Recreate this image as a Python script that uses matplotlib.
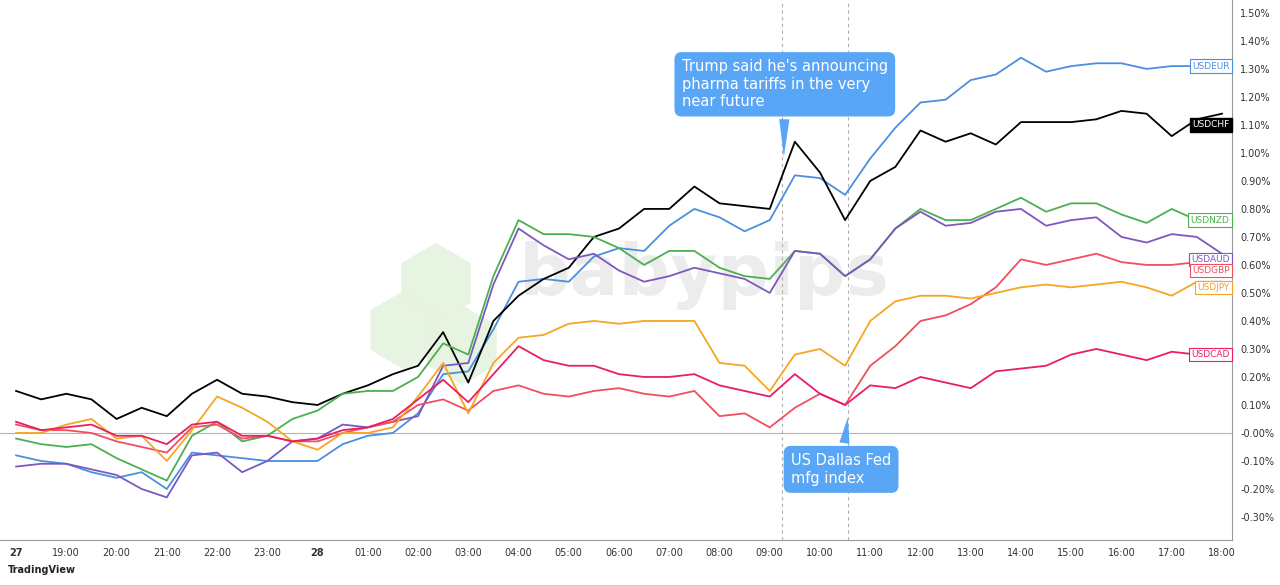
import numpy as np
import matplotlib
matplotlib.use("Agg")
import matplotlib.pyplot as plt
from matplotlib.patches import RegularPolygon
from matplotlib.transforms import blended_transform_factory

# half-hour steps, hours since 27th 18:00
hours = np.arange(49) * 0.5

usdeur = [-0.08, -0.10, -0.11, -0.14, -0.16, -0.14, -0.20, -0.07, -0.08, -0.09, -0.10, -0.10, -0.10,
          -0.04, -0.01, 0.00, 0.07, 0.21, 0.22, 0.37, 0.54, 0.55, 0.54, 0.63, 0.66, 0.65, 0.74, 0.80,
          0.77, 0.72, 0.76, 0.92, 0.91, 0.85, 0.98, 1.09, 1.18, 1.19, 1.26, 1.28, 1.34, 1.29, 1.31,
          1.32, 1.32, 1.30, 1.31, 1.31, 1.31]
usdchf = [0.15, 0.12, 0.14, 0.12, 0.05, 0.09, 0.06, 0.14, 0.19, 0.14, 0.13, 0.11, 0.10, 0.14, 0.17,
          0.21, 0.24, 0.36, 0.18, 0.40, 0.49, 0.55, 0.59, 0.70, 0.73, 0.80, 0.80, 0.88, 0.82, 0.81,
          0.80, 1.04, 0.93, 0.76, 0.90, 0.95, 1.08, 1.04, 1.07, 1.03, 1.11, 1.11, 1.11, 1.12, 1.15,
          1.14, 1.06, 1.12, 1.14]
usdnzd = [-0.02, -0.04, -0.05, -0.04, -0.09, -0.13, -0.17, -0.01, 0.04, -0.03, -0.01, 0.05, 0.08,
          0.14, 0.15, 0.15, 0.20, 0.32, 0.28, 0.56, 0.76, 0.71, 0.71, 0.70, 0.66, 0.60, 0.65, 0.65,
          0.59, 0.56, 0.55, 0.65, 0.64, 0.56, 0.62, 0.73, 0.80, 0.76, 0.76, 0.80, 0.84, 0.79, 0.82,
          0.82, 0.78, 0.75, 0.80, 0.76, 0.76]
usdaud = [-0.12, -0.11, -0.11, -0.13, -0.15, -0.20, -0.23, -0.08, -0.07, -0.14, -0.10, -0.03, -0.02,
          0.03, 0.02, 0.04, 0.06, 0.24, 0.25, 0.53, 0.73, 0.67, 0.62, 0.64, 0.58, 0.54, 0.56, 0.59,
          0.57, 0.55, 0.50, 0.65, 0.64, 0.56, 0.62, 0.73, 0.79, 0.74, 0.75, 0.79, 0.80, 0.74, 0.76,
          0.77, 0.70, 0.68, 0.71, 0.70, 0.64]
usdgbp = [0.03, 0.01, 0.01, 0.00, -0.03, -0.05, -0.07, 0.02, 0.03, -0.02, -0.01, -0.03, -0.03,
          0.00, 0.02, 0.04, 0.10, 0.12, 0.08, 0.15, 0.17, 0.14, 0.13, 0.15, 0.16, 0.14, 0.13, 0.15,
          0.06, 0.07, 0.02, 0.09, 0.14, 0.10, 0.24, 0.31, 0.40, 0.42, 0.46, 0.52, 0.62, 0.60, 0.62,
          0.64, 0.61, 0.60, 0.60, 0.61, 0.61]
usdjpy = [0.00, 0.00, 0.03, 0.05, -0.02, -0.01, -0.10, 0.01, 0.13, 0.09, 0.04, -0.03, -0.06,
          0.00, 0.00, 0.02, 0.13, 0.25, 0.07, 0.25, 0.34, 0.35, 0.39, 0.40, 0.39, 0.40, 0.40, 0.40,
          0.25, 0.24, 0.15, 0.28, 0.30, 0.24, 0.40, 0.47, 0.49, 0.49, 0.48, 0.50, 0.52, 0.53, 0.52,
          0.53, 0.54, 0.52, 0.49, 0.54, 0.54]
usdcad = [0.04, 0.01, 0.02, 0.03, -0.01, -0.01, -0.04, 0.03, 0.04, -0.01, -0.01, -0.03, -0.02,
          0.01, 0.02, 0.05, 0.12, 0.19, 0.11, 0.21, 0.31, 0.26, 0.24, 0.24, 0.21, 0.20, 0.20, 0.21,
          0.17, 0.15, 0.13, 0.21, 0.14, 0.10, 0.17, 0.16, 0.20, 0.18, 0.16, 0.22, 0.23, 0.24, 0.28,
          0.30, 0.28, 0.26, 0.29, 0.28, 0.28]

names = ["USDEUR", "USDCHF", "USDNZD", "USDAUD", "USDGBP", "USDJPY", "USDCAD"]
series = [usdeur, usdchf, usdnzd, usdaud, usdgbp, usdjpy, usdcad]
colors = ["#4a8fe0", "#000000", "#4caf50", "#7e57c2", "#ef4f5f", "#f5a623", "#e91e63"]
tag_y = [1.31, 1.10, 0.76, 0.62, 0.58, 0.52, 0.28]

tick_labels = ["27", "19:00", "20:00", "21:00", "22:00", "23:00", "28", "01:00", "02:00", "03:00",
               "04:00", "05:00", "06:00", "07:00", "08:00", "09:00", "10:00", "11:00", "12:00",
               "13:00", "14:00", "15:00", "16:00", "17:00", "18:00"]

fig = plt.figure(figsize=(12.8, 5.85), dpi=100)
ax = fig.add_axes([0.0, 0.077, 0.9625, 0.923])
ax.set_xlim(-0.32, 24.2)
ax.set_ylim(-0.382, 1.546)

# watermark (pixel positions, y from bottom)
for cx, cy in [(436, 302), (405, 255), (462, 240)]:
    hexa = RegularPolygon((cx, cy), 6, radius=40, orientation=0, transform=None,
                          fc="#e6f3df", ec="none", alpha=0.9, zorder=0)
    ax.add_patch(hexa)
ax.text(0.572, 0.49, "babypips", transform=ax.transAxes, fontsize=52, fontweight="bold",
        color="#ececec", ha="center", va="center", zorder=0)

ax.axhline(0, color="#b2b5be", lw=0.8, zorder=1)
for xv in [15.25, 16.55]:
    ax.axvline(xv, color="#b0b0b0", lw=0.8, ls=(0, (3, 3)), zorder=1)

for s, c in zip(series, colors):
    ax.plot(hours, s, color=c, lw=1.3, zorder=3)

tr = blended_transform_factory(ax.transAxes, ax.transData)
for n, c, ty in zip(names, colors, tag_y):
    if n == "USDCHF":
        ax.text(0.998, ty, n, transform=tr, ha="right", va="center", fontsize=6.5, color="white",
                bbox=dict(boxstyle="square,pad=0.25", fc="black", ec="black"), zorder=5)
    else:
        ax.text(0.998, ty, n, transform=tr, ha="right", va="center", fontsize=6.5, color=c,
                bbox=dict(boxstyle="square,pad=0.25", fc="white", ec=c, lw=0.8), zorder=5)

box_c = "#58a6f5"
ax.annotate("Trump said he's announcing\npharma tariffs in the very\nnear future", xy=(15.28, 0.975),
            xytext=(15.3, 1.245), ha="center", va="center", multialignment="left", fontsize=10.5,
            color="white", bbox=dict(boxstyle="round,pad=0.5", fc=box_c, ec="none"),
            arrowprops=dict(arrowstyle="wedge,tail_width=0.7", fc=box_c, ec="none"), zorder=6)
ax.annotate("US Dallas Fed\nmfg index", xy=(16.56, 0.065), xytext=(16.42, -0.13), ha="center",
            va="center", multialignment="left", fontsize=10.5, color="white",
            bbox=dict(boxstyle="round,pad=0.5", fc=box_c, ec="none"),
            arrowprops=dict(arrowstyle="wedge,tail_width=0.7", fc=box_c, ec="none"), zorder=6)

yt = np.round(np.arange(-0.3, 1.51, 0.1), 2)
ax.set_yticks(yt)
ax.set_yticklabels(["-0.00%" if v == 0 else f"{v:.2f}%" for v in yt])
ax.yaxis.tick_right()
ax.set_xticks(np.arange(25))
ax.set_xticklabels(tick_labels)
for lab in ax.get_xticklabels():
    if lab.get_text() in ("27", "28"):
        lab.set_fontweight("bold")
ax.tick_params(axis="both", length=0, labelsize=7, colors="#333333", pad=6)
for sp in ["top", "left", "bottom"]:
    ax.spines[sp].set_visible(False)
ax.spines["right"].set_color("#999999")
ax.spines["right"].set_linewidth(0.8)
fig.add_artist(plt.Line2D([0, 0.9625], [0.077, 0.077], color="#999999", lw=0.8))

fig.text(0.006, 0.02, "TradingView", fontsize=7, fontweight="bold", color="#222222")
fig.savefig("out.png", dpi=100)
